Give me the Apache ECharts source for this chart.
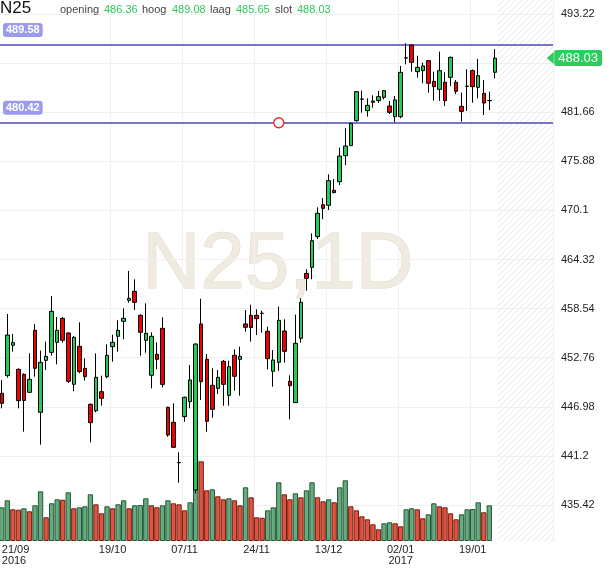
<!DOCTYPE html>
<html>
<head>
<meta charset="utf-8">
<style>
  html, body { margin: 0; padding: 0; background: #fff; }
  #chart { width: 610px; height: 568px; }
</style>
</head>
<body>
<div id="chart"></div>
<script src="https://cdn.jsdelivr.net/npm/echarts@6/dist/echarts.min.js"></script>
<script>
// trading days shown on the chart
const dates = [
  '21/09','22/09','23/09','26/09','27/09','28/09','29/09','30/09',
  '03/10','04/10','05/10','06/10','07/10','10/10','11/10','12/10','13/10','14/10','17/10','18/10',
  '19/10','20/10','21/10','24/10','25/10','26/10','27/10','28/10','31/10',
  '01/11','02/11','03/11','04/11','07/11','08/11','09/11','10/11','11/11','14/11','15/11','16/11',
  '17/11','18/11','21/11','22/11','23/11','24/11','25/11','28/11','29/11','30/11',
  '01/12','02/12','05/12','06/12','07/12','08/12','09/12','12/12','13/12','14/12','15/12','16/12',
  '19/12','20/12','21/12','22/12','23/12','27/12','28/12','29/12','30/12',
  '02/01','03/01','04/01','05/01','06/01','09/01','10/01','11/01','12/01','13/01','16/01','17/01',
  '18/01','19/01','20/01','23/01','24/01','25/01'
];

const opens = [
  448.57, 450.65, 454.22, 451.39, 450.80, 448.68, 455.98, 446.33, 452.45, 453.39,
  454.57, 457.39, 455.67, 449.63, 454.10, 451.51, 447.27, 446.52, 448.76, 450.53,
  454.06, 455.28, 457.04, 459.51, 460.57, 457.75, 454.80, 450.69, 453.16, 456.22,
  446.92, 445.15, 440.40, 445.82, 447.59, 437.18, 456.73, 452.57, 449.51, 449.15,
  452.33, 448.33, 453.04, 452.57, 456.73, 457.75, 457.75, 457.98, 455.87, 451.16,
  452.22, 455.90, 449.98, 447.47, 455.04, 462.69, 463.40, 467.01, 470.77, 470.70,
  472.46, 473.48, 476.54, 477.72, 480.66, 483.19, 481.84, 482.82, 483.02, 483.41,
  482.39, 481.14, 481.14, 488.04, 489.57, 486.43, 486.55, 487.73, 485.29, 484.35,
  485.18, 485.76, 485.18, 482.35, 484.70, 486.55, 484.59, 483.88, 483.02, 486.36
];
const highs = [
  450.14, 457.90, 455.55, 451.51, 450.92, 453.27, 456.73, 453.59, 454.65, 460.02,
  457.55, 457.55, 455.75, 455.32, 456.92, 452.69, 447.39, 453.27, 450.65, 454.33,
  455.47, 457.16, 458.57, 462.97, 461.99, 457.87, 459.16, 455.75, 454.57, 457.51,
  447.00, 447.39, 441.62, 448.17, 451.90, 454.45, 459.70, 453.20, 451.51, 451.31,
  452.49, 452.41, 453.74, 454.06, 458.38, 459.00, 458.45, 458.30, 456.41, 453.67,
  458.77, 457.28, 450.69, 457.83, 459.75, 463.16, 467.40, 470.46, 471.56, 474.35,
  473.80, 477.49, 479.76, 480.43, 484.16, 484.20, 483.29, 483.65, 484.16, 484.27,
  482.98, 483.57, 487.10, 489.77, 489.65, 488.31, 487.49, 487.80, 486.43, 488.79,
  486.35, 488.20, 485.45, 483.96, 486.71, 486.71, 487.92, 485.45, 484.08, 489.08
];
const lows = [
  446.80, 450.41, 453.47, 446.80, 444.05, 448.68, 450.53, 442.52, 451.31, 453.00,
  451.98, 454.53, 449.78, 448.80, 450.92, 450.06, 442.80, 446.33, 447.11, 450.33,
  452.29, 453.47, 454.92, 459.24, 458.38, 453.00, 453.35, 449.15, 451.39, 449.27,
  443.46, 442.15, 438.05, 445.23, 446.80, 436.79, 447.78, 444.05, 445.70, 448.49,
  447.11, 447.11, 448.88, 448.29, 455.83, 454.65, 455.43, 455.71, 451.39, 449.35,
  451.23, 452.18, 445.50, 447.47, 454.53, 460.65, 461.99, 466.73, 469.05, 470.15,
  472.11, 473.09, 475.44, 477.72, 480.54, 481.60, 481.14, 482.19, 482.74, 483.17,
  481.45, 480.47, 480.94, 487.29, 486.43, 485.72, 485.06, 483.96, 483.02, 482.98,
  482.39, 484.74, 483.80, 480.55, 481.80, 482.78, 483.29, 481.33, 481.92, 485.65
];
const closes = [
  447.39, 455.43, 454.53, 447.70, 447.72, 450.21, 451.51, 452.22, 452.92, 458.22,
  455.98, 454.80, 449.98, 455.16, 451.12, 450.53, 445.11, 450.45, 447.98, 453.04,
  454.57, 455.98, 457.40, 459.75, 459.28, 455.75, 455.63, 455.28, 452.57, 449.62,
  443.66, 442.21, 440.42, 448.10, 450.14, 454.37, 449.94, 445.27, 446.68, 450.45,
  449.63, 451.70, 450.57, 452.92, 456.34, 456.32, 457.36, 457.99, 452.65, 452.49,
  457.16, 453.51, 449.47, 454.45, 459.28, 462.10, 466.54, 469.76, 470.34, 473.60,
  472.19, 476.50, 477.68, 480.35, 484.08, 483.21, 482.47, 482.98, 483.49, 484.20,
  481.64, 483.10, 486.35, 488.06, 487.53, 486.94, 487.10, 485.06, 484.67, 486.55,
  483.02, 488.12, 484.12, 481.76, 484.72, 484.67, 485.96, 482.74, 483.04, 488.03
];
// volume (arbitrary units); the last session has no bar yet
const volumes = [
  337, 407, 317, 313, 327, 297, 357, 497, 237, 377,
  417, 413, 487, 327, 337, 347, 467, 367, 277, 347,
  327, 367, 407, 327, 357, 360, 427, 357, 337, 357,
  407, 377, 367, 307, 387, 817, 797, 507, 517, 447,
  417, 427, 407, 357, 537, 437, 237, 233, 307, 337,
  587, 467, 417, 477, 437, 507, 587, 437, 397, 417,
  387, 537, 607, 347, 307, 247, 217, 167, 117, 177,
  187, 177, 147, 317, 327, 317, 227, 267, 377, 347,
  337, 277, 217, 267, 317, 320, 387, 287, 357
];

const levels = [489.58, 480.42];
const labelDates = ['21/09', '19/10', '07/11', '24/11', '13/12', '02/01', '19/01'];
const yearOf = { '21/09': '2016', '02/01': '2017' };
const futureSlots = 10;
const priceMin = 435.42, priceStep = 5.78, priceMax = 499.00;
const anchorIndex = 50;

const axisDates = dates.concat(new Array(futureSlots).fill(''));
const candles = dates.map((d, i) => [opens[i], closes[i], lows[i], highs[i]]);

const volUp = { color: '#68a981', borderColor: '#1f5a33', borderWidth: 1 };
const volDown = { color: '#dd5540', borderColor: '#7a1c10', borderWidth: 1 };
const volBars = volumes.map((v, i) => ({
  value: v,
  itemStyle: (i === 0 || v > volumes[i - 1]) ? volUp : volDown
}));

// hatch pattern for the empty future area
const hatch = document.createElement('canvas');
hatch.width = 6; hatch.height = 6;
const hc = hatch.getContext('2d');
hc.strokeStyle = '#e6e6e6';
hc.lineWidth = 1;
hc.beginPath();
hc.moveTo(0, 6); hc.lineTo(6, 0);
hc.moveTo(-1, 1); hc.lineTo(1, -1);
hc.moveTo(5, 7); hc.lineTo(7, 5);
hc.stroke();

const last = dates.length - 1;
const fmt = v => String(+(+v).toFixed(2));
const font = '"Liberation Sans", Arial, sans-serif';
const tagGreen = '#2ecc5c';

const header = [
  ['opening', 60, '#444'], [opens[last].toFixed(2), 104, '#2ec85a'],
  ['hoog', 142, '#444'], [highs[last].toFixed(2), 172, '#2ec85a'],
  ['laag', 210, '#444'], [lows[last].toFixed(2), 236, '#2ec85a'],
  ['slot', 275, '#444'], [closes[last].toFixed(2), 297, '#2ec85a']
];

const chart = echarts.init(document.getElementById('chart'));

const option = {
  animation: false,
  backgroundColor: '#fff',
  textStyle: { fontFamily: font },
  graphic: [
    {
      id: 'title', type: 'text', left: 0, top: 0, z: 10,
      style: { text: 'N25', font: '17px ' + font, fill: '#111' }
    },
    ...header.map((h, k) => ({
      id: 'h' + k, type: 'text', x: h[1], y: 10, z: 10,
      style: { text: h[0], font: '11px ' + font, fill: h[2], textVerticalAlign: 'middle' }
    })),
    {
      id: 'mark', type: 'text', x: 278, y: 266, z: 0, silent: true,
      style: {
        text: 'N25,1D', font: '80px ' + font, fill: '#f0ebe0',
        stroke: '#e0d8c4', lineWidth: 1, textAlign: 'center', textVerticalAlign: 'middle'
      }
    }
  ],
  grid: [
    { left: -1, right: 57, top: -35.1, bottom: 63, outerBoundsMode: 'none' },
    { left: -1, right: 57, top: 0, bottom: 27, outerBoundsMode: 'none' }
  ],
  xAxis: [
    {
      type: 'category', gridIndex: 0, data: axisDates, boundaryGap: true,
      axisLine: { show: false }, axisTick: { show: false }, axisLabel: { show: false },
      splitLine: { show: false }
    },
    {
      type: 'category', gridIndex: 1, data: axisDates, boundaryGap: true,
      axisLine: { show: false }, axisTick: { show: false },
      splitLine: {
        show: true,
        interval: (i, v) => labelDates.indexOf(v) >= 0,
        lineStyle: { color: '#f0f0f0', width: 1 }
      },
      axisLabel: {
        interval: (i, v) => labelDates.indexOf(v) >= 0,
        alignMinLabel: 'left',
        formatter: v => yearOf[v] ? v + '\n' + yearOf[v] : v,
        fontSize: 11, lineHeight: 11, color: '#222', margin: 3
      }
    }
  ],
  yAxis: [
    {
      type: 'value', gridIndex: 0, position: 'right',
      min: priceMin, max: priceMax, interval: priceStep,
      axisLine: { show: false }, axisTick: { show: false },
      splitLine: { lineStyle: { color: '#f0f0f0', width: 1 } },
      axisLabel: { showMaxLabel: false, margin: 8, fontSize: 11, color: '#222', formatter: fmt }
    },
    { type: 'value', gridIndex: 1, min: 0, max: 5410, show: false }
  ],
  series: [
    {
      name: 'volume', type: 'bar', xAxisIndex: 1, yAxisIndex: 1,
      data: volBars, barCategoryGap: '4%', z: 1, silent: true
    },
    {
      name: 'N25', type: 'candlestick', xAxisIndex: 0, yAxisIndex: 0,
      data: candles, barWidth: 4, z: 5,
      itemStyle: {
        color: '#22cc55', color0: '#f20000',
        borderColor: '#000', borderColor0: '#000', borderColorDoji: '#000', borderWidth: 1
      },
      markLine: {
        silent: true,
        symbol: ['none', 'none'],
        lineStyle: { color: '#7777c4', width: 2, type: 'solid' },
        label: {
          position: 'insideStartTop', distance: [4, 8],
          formatter: p => p.value.toFixed(2),
          color: '#fff', fontSize: 11, fontWeight: 'bold',
          backgroundColor: '#9b9bee', borderRadius: 3, padding: [2, 3, 1, 3]
        },
        data: [
          { yAxis: levels[0] },
          { yAxis: levels[1] },
          [
            { coord: [0, closes[last]], symbol: 'none' },
            {
              coord: [axisDates.length - 1, closes[last]],
              symbol: 'path://M0,0 L10,0 L5,10 Z', symbolSize: [12, 7],
              lineStyle: { color: tagGreen, width: 0 },
              label: {
                position: 'end', distance: 4, formatter: p => closes[last].toFixed(2),
                color: '#fff', fontSize: 13, fontWeight: 'normal',
                backgroundColor: tagGreen, borderRadius: 2, padding: [2, 4, 1, 4]
              }
            }
          ]
        ]
      },
      markPoint: {
        silent: true,
        symbol: 'circle', symbolSize: 10,
        itemStyle: { color: '#fff', borderColor: '#ee2222', borderWidth: 1.3 },
        label: { show: false },
        data: [{ coord: [anchorIndex, levels[1]] }]
      }
    }
  ]
};

chart.setOption(option);

// hatched "future" area, placed from the axes
const c0 = chart.convertToPixel({ xAxisIndex: 1 }, 0);
const c1 = chart.convertToPixel({ xAxisIndex: 1 }, 1);
const band = c1 - c0;
const fx0 = chart.convertToPixel({ xAxisIndex: 1 }, dates.length) - band / 2;
const fx1 = chart.convertToPixel({ xAxisIndex: 1 }, axisDates.length - 1) + band / 2;
const fy1 = chart.convertToPixel({ yAxisIndex: 1 }, 0);
chart.setOption({
  graphic: [{
    id: 'future', type: 'rect', silent: true, z: -1,
    shape: { x: fx0, y: 0, width: fx1 - fx0, height: fy1 },
    style: { fill: { image: hatch, repeat: 'repeat' } }
  }]
});
</script>
</body>
</html>
